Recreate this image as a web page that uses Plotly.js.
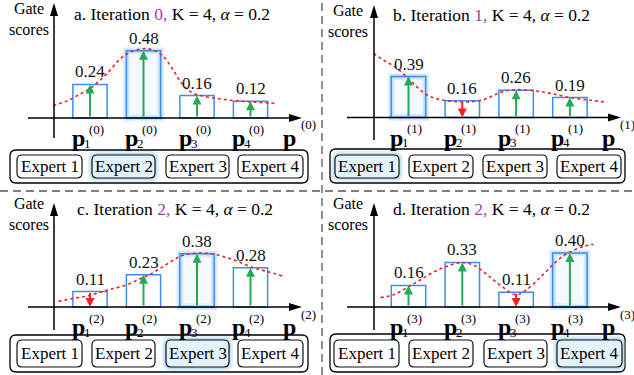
<!DOCTYPE html>
<html><head><meta charset="utf-8">
<script src="https://cdn.plot.ly/plotly-3.0.1.min.js"></script>
<style>html,body{margin:0;padding:0;background:#fff;}</style>
</head><body><div id="chart" style="width:634px;height:375px;"></div>
<script>
// ---------------- data ----------------
const experts = ['Expert 1', 'Expert 2', 'Expert 3', 'Expert 4'];
const panelLetters = ['a', 'b', 'c', 'd'];
const iterationLabels = [0, 1, 2, 2];
const pSuperscripts = ['(0)', '(1)', '(2)', '(3)'];
const pSubscripts = ['1', '2', '3', '4'];
const K = 4;
const alpha = 0.2;
const positions = [1, 2, 3, 4];

const scoresA = [0.24, 0.48, 0.16, 0.12];
const scoresB = [0.39, 0.16, 0.26, 0.19];
const scoresC = [0.11, 0.23, 0.38, 0.28];
const scoresD = [0.16, 0.33, 0.11, 0.40];

const curveAx = [0.31, 0.56, 0.81, 1.0, 1.19, 1.37, 1.56, 1.75, 2.0, 2.18, 2.37, 2.56, 2.71, 2.87, 3.06, 3.37, 3.68, 3.99, 4.49];
const curveAy = [0.09, 0.12, 0.17, 0.21, 0.27, 0.34, 0.42, 0.47, 0.495, 0.485, 0.44, 0.34, 0.25, 0.19, 0.16, 0.14, 0.125, 0.115, 0.105];
const curveBx = [0.35, 0.54, 0.755, 1.0, 1.16, 1.34, 1.59, 1.9, 2.15, 2.4, 2.58, 2.77, 3.02, 3.33, 3.64, 4.0, 4.38, 4.69];
const curveBy = [0.61, 0.545, 0.48, 0.37, 0.29, 0.215, 0.17, 0.15, 0.15, 0.17, 0.21, 0.25, 0.265, 0.255, 0.23, 0.19, 0.165, 0.145];
const curveCx = [0.41, 0.69, 0.97, 1.19, 1.37, 1.62, 1.93, 2.18, 2.37, 2.56, 2.74, 3.02, 3.3, 3.56, 3.8, 4.05, 4.3, 4.61];
const curveCy = [0.04, 0.062, 0.08, 0.105, 0.125, 0.15, 0.2, 0.245, 0.29, 0.335, 0.37, 0.385, 0.378, 0.352, 0.32, 0.28, 0.255, 0.22];
const curveDx = [0.48, 0.725, 1.0, 1.22, 1.47, 1.78, 1.99, 2.21, 2.46, 2.71, 3.0, 3.2, 3.45, 3.7, 3.88, 4.07, 4.26, 4.44];
const curveDy = [0.07, 0.09, 0.15, 0.2, 0.26, 0.31, 0.33, 0.31, 0.24, 0.16, 0.09, 0.13, 0.22, 0.32, 0.38, 0.42, 0.45, 0.465];

const allScores = [scoresA, scoresB, scoresC, scoresD];
const allCurves = [[curveAx, curveAy], [curveBx, curveBy], [curveCx, curveCy], [curveDx, curveDy]];

// ---------------- layout geometry (pixels) ----------------
const W = 634, H = 375;
const FONT = 'Liberation Serif, Times New Roman, serif';
const X = px => px / W;
const Y = py => 1 - py / H;

const panels = [
  {dom: [0, 316, 0, 189], c1: 90, s: 53.5, base: 118, k: 140, yAxX: 54, yTop: 3, yBot: 138, xL: 28, xR: 302,
   title: [172, 14], gate: [28.5, 19], outer: [10, 150, 308, 183], inner: [155, 178], boxes: [[17, 82], [92, 155], [166, 229], [238, 303]]},
  {dom: [318, 634, 0, 189], c1: 408.5, s: 53.8, base: 117.5, k: 105, yAxX: 374, yTop: 5, yBot: 140, xL: 347, xR: 621,
   title: [492, 15], gate: [348, 21], outer: [330, 149, 625, 183], inner: [155, 178], boxes: [[335, 399], [409, 473], [483, 547], [557, 621]]},
  {dom: [0, 316, 189, 375], c1: 90, s: 53.5, base: 307, k: 140, yAxX: 54, yTop: 203, yBot: 330, xL: 28, xR: 302,
   title: [175, 209], gate: [28.5, 214], outer: [10, 335, 308, 372], inner: [340, 367], boxes: [[17, 82], [92, 155], [166, 229], [238, 303]]},
  {dom: [318, 634, 189, 375], c1: 408.5, s: 53.8, base: 307, k: 135, yAxX: 374, yTop: 203, yBot: 330, xL: 347, xR: 621,
   title: [491, 209], gate: [348, 214], outer: [330, 334, 625, 372], inner: [340, 367], boxes: [[334, 399], [409, 473], [484, 547], [557, 622]]}
];

function rr(x0, y0, x1, y1, r) {
  return `M${X(x0 + r)},${Y(y0)} L${X(x1 - r)},${Y(y0)} Q${X(x1)},${Y(y0)} ${X(x1)},${Y(y0 + r)} ` +
         `L${X(x1)},${Y(y1 - r)} Q${X(x1)},${Y(y1)} ${X(x1 - r)},${Y(y1)} L${X(x0 + r)},${Y(y1)} ` +
         `Q${X(x0)},${Y(y1)} ${X(x0)},${Y(y1 - r)} L${X(x0)},${Y(y0 + r)} Q${X(x0)},${Y(y0)} ${X(x0 + r)},${Y(y0)} Z`;
}
function tri(pts) {
  return 'M' + pts.map(p => `${X(p[0])},${Y(p[1])}`).join(' L') + ' Z';
}
function paperText(px, py, text, size, extra) {
  return Object.assign({xref: 'paper', yref: 'paper', x: X(px), y: Y(py), xanchor: 'center', yanchor: 'middle',
    text: text, showarrow: false, font: {family: FONT, size: size, color: '#000'}}, extra || {});
}

const traces = [];
const shapes = [];
const annotations = [];
const layout = {
  width: W, height: H, margin: {l: 0, r: 0, t: 0, b: 0},
  paper_bgcolor: '#fff', plot_bgcolor: 'rgba(0,0,0,0)',
  showlegend: false, barmode: 'overlay', hovermode: false
};

const GREEN = '#22aa55', RED = '#ee2222', BLUE = '#3d8ef0';

panels.forEach((P, pi) => {
  const n = pi + 1;
  const xa = 'x' + (n === 1 ? '' : n), ya = 'y' + (n === 1 ? '' : n);
  const xk = 'xaxis' + (n === 1 ? '' : n), yk = 'yaxis' + (n === 1 ? '' : n);
  const [L, T, R, B] = [P.dom[0], P.dom[2], P.dom[1], P.dom[3]];
  layout[xk] = {domain: [X(L), X(R)], range: [1 + (L - P.c1) / P.s, 1 + (R - P.c1) / P.s],
                visible: false, fixedrange: true, anchor: ya};
  layout[yk] = {domain: [Y(B), Y(T)], range: [-(B - P.base) / P.k, (P.base - T) / P.k],
                visible: false, fixedrange: true, anchor: xa};

  const scores = allScores[pi];
  const imax = scores.indexOf(Math.max(...scores));
  const glowY = scores.map((v, i) => i === imax ? v : null);

  traces.push({type: 'bar', x: positions, y: glowY, xaxis: xa, yaxis: ya, width: 0.64,
    marker: {color: 'rgba(200,230,250,0.2)', line: {color: 'rgba(150,205,245,0.25)', width: 7}}, hoverinfo: 'skip'});
  traces.push({type: 'bar', x: positions, y: glowY, xaxis: xa, yaxis: ya, width: 0.64,
    marker: {color: 'rgba(0,0,0,0)', line: {color: 'rgba(150,205,245,0.4)', width: 4}}, hoverinfo: 'skip'});
  traces.push({type: 'bar', x: positions, y: scores, xaxis: xa, yaxis: ya, width: 0.64,
    marker: {color: 'rgba(255,255,255,0)', line: {color: BLUE, width: 1.5}}, hoverinfo: 'skip'});
  traces.push({type: 'scatter', mode: 'lines', x: allCurves[pi][0], y: allCurves[pi][1], xaxis: xa, yaxis: ya,
    line: {shape: 'spline', color: RED, dash: 'dot', width: 1.6}, hoverinfo: 'skip'});

  scores.forEach((v, i) => {
    const prev = pi === 0 ? null : allScores[pi - 1][i];
    const up = prev === null || v >= prev;
    annotations.push({xref: xa, yref: ya, axref: xa, ayref: ya, x: positions[i], ax: positions[i],
      y: up ? v : 0, ay: up ? 0 : v, text: '', showarrow: true, arrowhead: 2, arrowsize: 0.9,
      arrowwidth: 2, arrowcolor: up ? GREEN : RED, standoff: 0});
    annotations.push({xref: xa, yref: ya, x: positions[i], y: v, xanchor: 'center', yanchor: 'bottom', yshift: 1,
      text: v.toFixed(2), showarrow: false, font: {family: FONT, size: 17, color: '#111'}});
    annotations.push({xref: xa, yref: ya, x: positions[i], y: 0, xanchor: 'center', yanchor: 'middle', xshift: -12, yshift: -20,
      text: '<b>p</b>', showarrow: false, font: {family: FONT, size: 24, color: '#000'}});
    annotations.push({xref: xa, yref: ya, x: positions[i], y: 0, xanchor: 'center', yanchor: 'middle', xshift: 6, yshift: -11,
      text: pSuperscripts[pi], showarrow: false, font: {family: FONT, size: 13, color: '#000'}});
    annotations.push({xref: xa, yref: ya, x: positions[i], y: 0, xanchor: 'center', yanchor: 'middle', xshift: -3, yshift: -25,
      text: pSubscripts[i], showarrow: false, font: {family: FONT, size: 13, color: '#000'}});
  });

  annotations.push(paperText(P.xR - 13, P.base + 20, '<b>p</b>', 24));
  annotations.push(paperText(P.xR + 6, P.base + 7, pSuperscripts[pi], 13));

  shapes.push({type: 'line', xref: 'paper', yref: 'paper', x0: X(P.xL), x1: X(P.xR - 8), y0: Y(P.base), y1: Y(P.base),
    line: {color: '#000', width: 1.5}});
  shapes.push({type: 'path', xref: 'paper', yref: 'paper',
    path: tri([[P.xR, P.base], [P.xR - 13, P.base - 4], [P.xR - 13, P.base + 4]]), fillcolor: '#000', line: {width: 0}});
  shapes.push({type: 'line', xref: 'paper', yref: 'paper', x0: X(P.yAxX), x1: X(P.yAxX), y0: Y(P.yBot), y1: Y(P.yTop + 8),
    line: {color: '#000', width: 1.5}});
  shapes.push({type: 'path', xref: 'paper', yref: 'paper',
    path: tri([[P.yAxX, P.yTop], [P.yAxX - 4, P.yTop + 13], [P.yAxX + 4, P.yTop + 13]]), fillcolor: '#000', line: {width: 0}});

  annotations.push(paperText(P.title[0], P.title[1],
    `${panelLetters[pi]}. Iteration <span style="color:#a83ca8">${iterationLabels[pi]},</span> K = ${K}, <i>α</i> = ${alpha}`, 17.5));
  annotations.push(paperText(P.gate[0], P.gate[1], 'Gate<br>scores', 16, {align: 'center'}));

  const o = P.outer;
  shapes.push({type: 'path', xref: 'paper', yref: 'paper', path: rr(o[0], o[1], o[2], o[3], 6),
    line: {color: '#000', width: 1.3}, fillcolor: 'rgba(0,0,0,0)'});
  P.boxes.forEach((bx, i) => {
    const hi = i === imax;
    if (hi) {
      shapes.push({type: 'path', xref: 'paper', yref: 'paper', path: rr(bx[0], P.inner[0], bx[1], P.inner[1], 5),
        line: {color: 'rgba(150,205,242,0.3)', width: 8}, fillcolor: 'rgba(0,0,0,0)'});
      shapes.push({type: 'path', xref: 'paper', yref: 'paper', path: rr(bx[0], P.inner[0], bx[1], P.inner[1], 5),
        line: {color: 'rgba(150,205,242,0.45)', width: 4}, fillcolor: 'rgba(0,0,0,0)'});
    }
    shapes.push({type: 'path', xref: 'paper', yref: 'paper', path: rr(bx[0], P.inner[0], bx[1], P.inner[1], 5),
      line: {color: '#111', width: 1.2}, fillcolor: hi ? '#e3f2fb' : '#fff'});
    annotations.push(paperText((bx[0] + bx[1]) / 2, (P.inner[0] + P.inner[1]) / 2, experts[i], 17));
  });
});

shapes.push({type: 'line', xref: 'paper', yref: 'paper', x0: 0, x1: 1, y0: Y(191), y1: Y(191),
  line: {color: '#555', width: 1.3, dash: '8px,5px'}});
shapes.push({type: 'line', xref: 'paper', yref: 'paper', x0: X(322), x1: X(322), y0: 0, y1: 1,
  line: {color: '#555', width: 1.3, dash: '8px,5px'}});

layout.shapes = shapes;
layout.annotations = annotations;
Plotly.newPlot('chart', traces, layout, {staticPlot: true, displayModeBar: false});
</script></body></html>
